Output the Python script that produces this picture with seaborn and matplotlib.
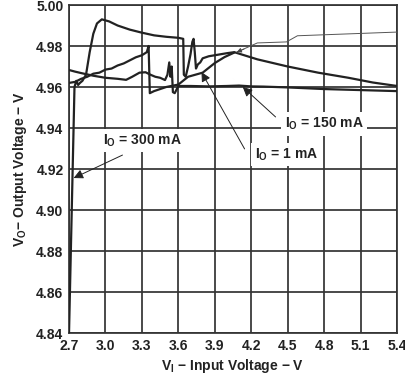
import pandas as pd
import seaborn as sns
from matplotlib import pyplot as plt

# I_O = 300 mA
vi_300 = [2.700, 2.745, 2.760, 2.775, 2.790, 2.810, 2.840, 2.870, 2.900, 2.930, 2.970,
          3.030, 3.100, 3.200, 3.300, 3.400, 3.500, 3.600, 3.640, 3.645, 3.660, 3.680,
          3.700, 3.715, 3.725, 3.735, 3.745, 3.760, 3.780, 3.800, 3.850, 3.900, 4.000,
          4.060, 4.250, 4.500, 4.750, 5.000, 5.200, 5.400]
vo_300 = [4.8400, 4.9600, 4.9630, 4.9610, 4.9620, 4.9630, 4.9660, 4.9770, 4.9860, 4.9910,
          4.9930, 4.9920, 4.9900, 4.9880, 4.9865, 4.9852, 4.9845, 4.9840, 4.9835, 4.9660,
          4.9650, 4.9700, 4.9760, 4.9820, 4.9835, 4.9770, 4.9690, 4.9710, 4.9720, 4.9740,
          4.9750, 4.9755, 4.9765, 4.9770, 4.9735, 4.9700, 4.9670, 4.9645, 4.9622, 4.9605]

# I_O = 150 mA
vi_150 = [2.700, 2.750, 2.800, 2.900, 3.000, 3.100, 3.170, 3.220, 3.280, 3.330, 3.370,
          3.410, 3.450, 3.490, 3.510, 3.525, 3.535, 3.545, 3.555, 3.570, 3.600, 3.700,
          3.850, 4.000, 4.100, 4.200, 4.300, 4.500, 4.800, 5.100, 5.400]
vo_150 = [4.9683, 4.9675, 4.9668, 4.9655, 4.9645, 4.9640, 4.9635, 4.9650, 4.9670, 4.9672,
          4.9660, 4.9650, 4.9645, 4.9634, 4.9660, 4.9720, 4.9650, 4.9700, 4.9575, 4.9570,
          4.9605, 4.9605, 4.9603, 4.9605, 4.9607, 4.9603, 4.9602, 4.9598, 4.9590, 4.9585,
          4.9580]

# I_O = 1 mA
vi_1 = [2.700, 2.750, 2.800, 2.850, 2.900, 2.950, 3.000, 3.050, 3.100, 3.150, 3.200,
        3.250, 3.300, 3.340, 3.355, 3.365, 3.400, 3.450, 3.500, 3.600, 3.680, 3.800,
        3.900, 3.980, 4.060]
vo_1 = [4.9620, 4.9625, 4.9640, 4.9650, 4.9665, 4.9670, 4.9685, 4.9690, 4.9705, 4.9715,
        4.9730, 4.9745, 4.9755, 4.9770, 4.9800, 4.9570, 4.9580, 4.9590, 4.9600, 4.9612,
        4.9650, 4.9670, 4.9717, 4.9746, 4.9768]

# thin leader line towards the upper right
vi_lead = [4.08, 4.25, 4.49, 4.58, 5.40]
vo_lead = [4.9770, 4.9815, 4.9820, 4.9850, 4.9868]

x_ticks = [2.7, 3.0, 3.3, 3.6, 3.9, 4.2, 4.5, 4.8, 5.1, 5.4]
y_ticks = [4.84, 4.86, 4.88, 4.90, 4.92, 4.94, 4.96, 4.98, 5.00]

df = pd.concat([
    pd.DataFrame({'vi': vi_300, 'vo': vo_300, 'load': '300 mA'}),
    pd.DataFrame({'vi': vi_150, 'vo': vo_150, 'load': '150 mA'}),
    pd.DataFrame({'vi': vi_1, 'vo': vo_1, 'load': '1 mA'}),
])

sns.set_style('white')
plt.rcParams['font.family'] = ['Liberation Sans', 'DejaVu Sans']
plt.rcParams['mathtext.fontset'] = 'custom'
plt.rcParams['mathtext.rm'] = 'Liberation Sans:bold'
plt.rcParams['mathtext.bf'] = 'Liberation Sans:bold'
plt.rcParams['mathtext.default'] = 'bf'

fig = plt.figure(figsize=(4.06, 3.77), dpi=100)
ax = fig.add_axes([0.170, 0.1167, 0.808, 0.870])

grid_c = '#333333'
for xv in x_ticks:
    ax.axvline(xv, color=grid_c, lw=1.25, zorder=1)
for yv in y_ticks:
    ax.axhline(yv, color=grid_c, lw=1.25, zorder=1)

sns.lineplot(data=df, x='vi', y='vo', units='load', estimator=None, sort=False,
             color='#222222', lw=1.6, ax=ax, zorder=3)
sns.lineplot(x=vi_lead, y=vo_lead, sort=False, color='#555555', lw=0.7, ax=ax, zorder=3)

fs = 10
ax.set_xlim(2.7, 5.4)
ax.set_ylim(4.84, 5.00)
ax.set_xticks(x_ticks)
ax.set_yticks(y_ticks)
ax.set_xticklabels([f'{v:.1f}' for v in x_ticks], fontsize=fs, fontweight='bold', color='#222')
ax.set_yticklabels([f'{v:.2f}' for v in y_ticks], fontsize=fs, fontweight='bold', color='#222')
ax.tick_params(length=0, pad=4)
for s in ax.spines.values():
    s.set_color(grid_c)
    s.set_linewidth(1.25)

ax.set_xlabel('V$_{I}$ \u2212 Input Voltage \u2212 V', fontsize=fs, fontweight='bold',
              color='#222', labelpad=3)
ax.set_ylabel('V$_{O}$\u2212 Output Voltage \u2212 V', fontsize=fs, fontweight='bold',
              color='#222', labelpad=5)

arrow = dict(arrowstyle='-|>', color='#222', lw=0.7, mutation_scale=14, shrinkA=0, shrinkB=0)
box = dict(boxstyle='square,pad=0.25', fc='white', ec='none')
labels = [('I$_{O}$ = 300 mA', (3.30, 4.934), (3.14, 4.9268), (2.738, 4.9156)),
          ('I$_{O}$ = 150 mA', (4.80, 4.942), (4.40, 4.9454), (4.13, 4.9600)),
          ('I$_{O}$ = 1 mA', (4.49, 4.927), (4.145, 4.9298), (3.79, 4.9673))]
for txt, pos, tail, tip in labels:
    ax.annotate('', xy=tip, xytext=tail, arrowprops=arrow, zorder=4)
    ax.text(pos[0], pos[1], txt, ha='center', va='center', fontsize=fs,
            fontweight='bold', color='#222', bbox=box, zorder=5)

ax.annotate('', xy=(vi_lead[0], vo_lead[0]), xytext=(4.14, 4.9785),
            arrowprops=dict(arrowstyle='-|>', color='#444', lw=0.6, mutation_scale=7,
                            shrinkA=0, shrinkB=0), zorder=4)

fig.savefig('out.png', dpi=100)
